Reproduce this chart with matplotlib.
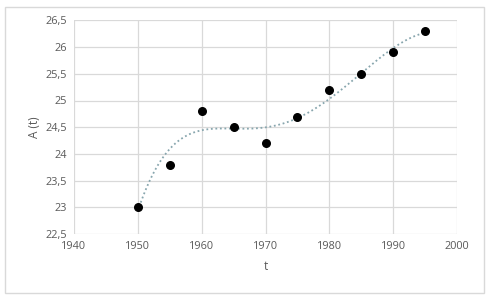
import numpy as np
import matplotlib
matplotlib.use('Agg')
import matplotlib.pyplot as plt
from matplotlib.ticker import FuncFormatter, MultipleLocator
from matplotlib.patches import Rectangle

# data
years = [1950, 1955, 1960, 1965, 1970, 1975, 1980, 1985, 1990, 1995]
values = [23.0, 23.8, 24.8, 24.5, 24.2, 24.7, 25.2, 25.5, 25.9, 26.3]

plt.rcParams['font.family'] = ['Open Sans', 'DejaVu Sans']

fig = plt.figure(figsize=(4.89, 3.0), dpi=100)
ax = fig.add_axes([0.151, 0.22, 0.784, 0.712])

# outer chart border
fig.patches.append(Rectangle((0.011, 0.022), 0.978, 0.956, transform=fig.transFigure,
                             fill=False, edgecolor='#d9d9d9', linewidth=1.0))

# polynomial trendline (as in a spreadsheet chart)
x = np.array(years, dtype=float)
y = np.array(values)
coef = np.polyfit(x - 1972.5, y, 5)
xs = np.linspace(x.min(), x.max(), 300)
ax.plot(xs, np.polyval(coef, xs - 1972.5), linestyle=(0, (1, 1.5)), color='#88a6ae',
        linewidth=1.3, zorder=2)

ax.scatter(years, values, s=30, color='black', zorder=3)

ax.set_xlim(1940, 2000)
ax.set_ylim(22.5, 26.5)
ax.xaxis.set_major_locator(MultipleLocator(10))
ax.yaxis.set_major_locator(MultipleLocator(0.5))
ax.yaxis.set_major_formatter(FuncFormatter(lambda v, p: ('%g' % v).replace('.', ',')))

ax.grid(True, color='#d9d9d9', linewidth=0.9)
ax.set_axisbelow(True)
for s in ax.spines.values():
    s.set_visible(False)
ax.tick_params(length=0, labelsize=7.8, colors='#595959', pad=5)

ax.set_xlabel('t', fontsize=8.5, color='#595959', labelpad=6)
ax.set_ylabel('A (t)', fontsize=8.5, color='#595959', labelpad=3)

fig.savefig('out.png', dpi=100)
